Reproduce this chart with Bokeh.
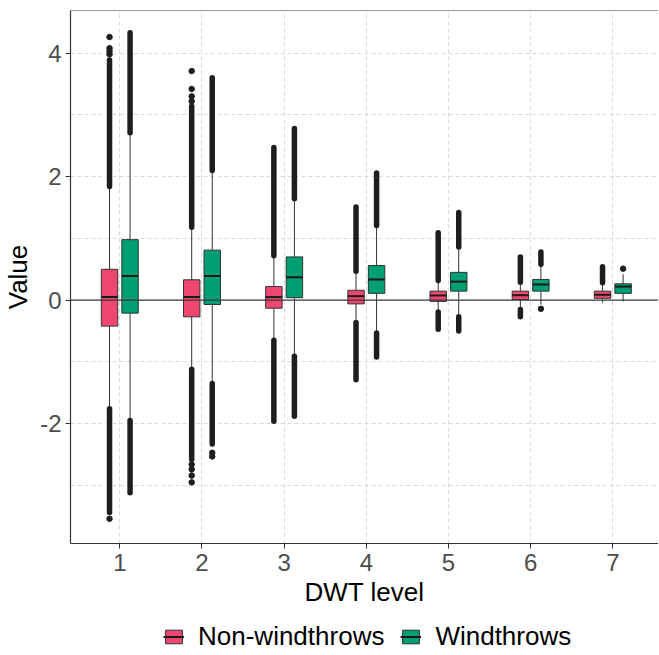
from bokeh.plotting import figure
from bokeh.layouts import column
from bokeh.models import ColumnDataSource, FixedTicker, Range1d, Span, Legend, LegendItem
from bokeh.embed import file_html
from bokeh.resources import INLINE

# ---------------- data ----------------
levels = [1, 2, 3, 4, 5, 6, 7]
group_names = ["Non-windthrows", "Windthrows"]
group_colors = ["#EF476F", "#009E73"]

# Non-windthrows
nw_q1 = [-0.42, -0.27, -0.13, -0.06, -0.02, 0.01, 0.03]
nw_med = [0.05, 0.05, 0.05, 0.065, 0.076, 0.08, 0.087]
nw_q3 = [0.50, 0.33, 0.22, 0.16, 0.146, 0.146, 0.146]
nw_whisk_hi = [1.84, 1.18, 0.72, 0.47, 0.32, 0.29, 0.28]
nw_whisk_lo = [-1.76, -1.12, -0.65, -0.36, -0.19, -0.15, -0.04]
nw_out_top = [3.89, 3.14, 2.47, 1.51, 1.09, 0.70, 0.54]        # end of dense upper outlier run
nw_out_bottom = [-3.44, -2.58, -1.96, -1.29, -0.47, -0.27, None]  # end of dense lower outlier run
nw_sparse_level = [1, 1, 1, 1, 1, 2, 2, 2, 2, 2, 2, 2, 2]
nw_sparse_value = [3.98, 4.03, 4.08, 4.26, -3.54, 3.22, 3.30, 3.42, 3.71, -2.66, -2.74, -2.84, -2.95]

# Windthrows
w_q1 = [-0.21, -0.07, 0.04, 0.11, 0.146, 0.146, 0.11]
w_med = [0.39, 0.39, 0.37, 0.335, 0.30, 0.254, 0.22]
w_q3 = [0.98, 0.81, 0.70, 0.56, 0.45, 0.335, 0.265]
w_whisk_hi = [2.71, 2.10, 1.64, 1.21, 0.86, 0.58, 0.42]
w_whisk_lo = [-1.95, -1.35, -0.91, -0.53, -0.27, -0.07, -0.02]
w_out_top = [4.33, 3.60, 2.78, 2.06, 1.42, 0.78, None]
w_out_bottom = [-3.12, -2.33, -1.88, -0.92, -0.50, None, None]
w_sparse_level = [2, 2, 6, 7]
w_sparse_value = [-2.47, -2.53, -0.14, 0.51]

y_ticks = [-2, 0, 2, 4]
y_tick_labels = ["-2", "0", "2", "4"]
y_minor = [-3, -1, 1, 3]
x_tick_labels = ["1", "2", "3", "4", "5", "6", "7"]

# ---------------- main figure ----------------
FONT = "Liberation Sans"
p = figure(width=658, height=609, output_backend="svg", toolbar_location=None,
           x_range=Range1d(0.4, 7.556), y_range=Range1d(-3.94, 4.69),
           min_border_left=68, min_border_right=0, min_border_top=10, min_border_bottom=66)
p.background_fill_color = "white"
p.border_fill_color = "white"
p.outline_line_color = None

dodge = 0.125
box_w = 0.2

groups = [
    (nw_q1, nw_med, nw_q3, nw_whisk_hi, nw_whisk_lo, nw_out_top, nw_out_bottom, nw_sparse_level, nw_sparse_value, -dodge),
    (w_q1, w_med, w_q3, w_whisk_hi, w_whisk_lo, w_out_top, w_out_bottom, w_sparse_level, w_sparse_value, dodge),
]

for gi, (q1, med, q3, whi, wlo, otop, obot, sl, sv, off) in enumerate(groups):
    xs = [l + off for l in levels]
    src = ColumnDataSource(dict(x=xs, x0=[x - box_w / 2 for x in xs], x1=[x + box_w / 2 for x in xs],
                                q1=q1, med=med, q3=q3, whi=whi, wlo=wlo))
    # whiskers
    p.segment(x0="x", y0="q3", x1="x", y1="whi", source=src, line_color="#333333", line_width=1)
    p.segment(x0="x", y0="q1", x1="x", y1="wlo", source=src, line_color="#333333", line_width=1)
    # dense outlier runs
    ux, uy0, uy1 = [], [], []
    for x, a, b in zip(xs, whi, otop):
        if b is not None:
            ux.append(x); uy0.append(a); uy1.append(b)
    for x, a, b in zip(xs, wlo, obot):
        if b is not None:
            ux.append(x); uy0.append(a); uy1.append(b)
    p.segment(x0=ux, y0=uy0, x1=ux, y1=uy1, line_color="#1E1E1E", line_width=5.5, line_cap="round")
    # sparse outliers
    p.scatter([l + off for l in sl], sv, size=5.5, fill_color="#1E1E1E", line_color="#1E1E1E")
    # boxes
    p.vbar(x="x", width=box_w, top="q3", bottom="q1", source=src,
           fill_color=group_colors[gi], line_color="#333333", line_width=1)
    p.segment(x0="x0", y0="med", x1="x1", y1="med", source=src,
              line_color="#1A1A1A", line_width=2)

# zero reference line
p.add_layout(Span(location=0, dimension="width", line_color="#3A3A3A", line_width=1.2))
# top border of the panel
p.add_layout(Span(location=4.69, dimension="width", line_color="#333333", line_width=1.2))

# grids
p.xgrid.ticker = FixedTicker(ticks=levels)
p.xgrid.grid_line_color = "#D9D9D9"
p.xgrid.grid_line_dash = "4 3"
p.ygrid.ticker = FixedTicker(ticks=y_ticks, minor_ticks=y_minor)
p.ygrid.grid_line_color = "#D9D9D9"
p.ygrid.grid_line_dash = "4 3"
p.ygrid.minor_grid_line_color = "#D9D9D9"
p.ygrid.minor_grid_line_dash = "4 3"

# axes
p.xaxis.ticker = FixedTicker(ticks=levels)
p.yaxis.ticker = FixedTicker(ticks=y_ticks)
p.xaxis.major_label_overrides = {l: t for l, t in zip(levels, x_tick_labels)}
p.yaxis.major_label_overrides = {v: t for v, t in zip(y_ticks, y_tick_labels)}
for ax in (p.xaxis[0], p.yaxis[0]):
    ax.axis_line_color = "#333333"
    ax.axis_line_width = 1.2
    ax.major_tick_line_color = "#333333"
    ax.major_tick_out = 5
    ax.major_tick_in = 0
    ax.minor_tick_line_color = None
    ax.major_label_text_font = FONT
    ax.major_label_text_font_size = "24px"
    ax.major_label_text_color = "#4D4D4D"
    ax.axis_label_text_font = FONT
    ax.axis_label_text_font_size = "26px"
    ax.axis_label_text_font_style = "normal"
    ax.axis_label_text_color = "black"
p.xaxis.axis_label = "DWT level"
p.yaxis.axis_label = "Value"
p.xaxis.major_label_standoff = 5
p.yaxis.major_label_standoff = 4
p.xaxis.axis_label_standoff = 3
p.yaxis.axis_label_standoff = 4

# ---------------- legend strip ----------------
leg = figure(width=658, height=44, output_backend="svg", toolbar_location=None,
             x_range=Range1d(0, 1), y_range=Range1d(0, 1),
             x_axis_location=None, y_axis_location=None,
             min_border_left=68, min_border_right=0, min_border_top=0, min_border_bottom=0)
leg.outline_line_color = None
leg.xgrid.visible = False
leg.ygrid.visible = False
items = []
for gi in range(2):
    # key glyphs only (kept outside the visible range of this strip)
    b = leg.vbar(x=[-10], top=[-10], bottom=[-11], width=0.1, fill_color=group_colors[gi],
                 line_color="#333333", line_width=1)
    m = leg.segment(x0=[-10], y0=[-10], x1=[-9], y1=[-10], line_color="#1A1A1A", line_width=2)
    items.append(LegendItem(label=group_names[gi], renderers=[b, m]))
legend = Legend(items=items, orientation="horizontal", location=(93, 1),
                border_line_color=None, background_fill_alpha=0,
                label_text_font=FONT, label_text_font_size="26px", label_text_color="black",
                glyph_width=21, glyph_height=17, label_standoff=14, spacing=16,
                padding=0, margin=0)
leg.add_layout(legend, "center")

layout = column(p, leg, spacing=0)
open("out.html", "w").write(file_html(layout, INLINE))
